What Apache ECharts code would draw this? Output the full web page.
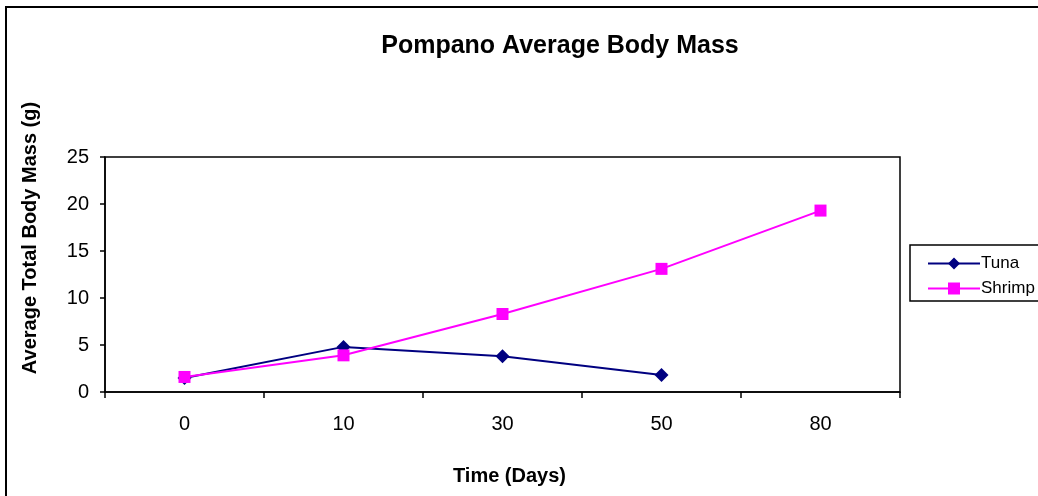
<!DOCTYPE html>
<html>
<head>
<meta charset="utf-8">
<script src="https://cdn.jsdelivr.net/npm/echarts@6/dist/echarts.min.js"></script>
<style>
  html, body { margin: 0; padding: 0; background: #fff; }
  #chart { width: 1038px; height: 496px; }
</style>
</head>
<body>
<div id="chart"></div>
<script>
var days = ['0', '10', '30', '50', '80']
var tuna = [1.5, 4.8, 3.8, 1.8]
var shrimp = [1.6, 3.9, 8.3, 13.1, 19.3]
var yTicks = [0, 5, 10, 15, 20, 25]

var font = 'Arial, "Liberation Sans", sans-serif'
var colors = ['#000080', '#ff00ff']

var chart = echarts.init(document.getElementById('chart'))

chart.setOption({
  animation: false,
  color: colors,
  title: {
    text: 'Pompano Average Body Mass',
    left: 555,
    top: 29,
    textAlign: 'center',
    textStyle: { fontFamily: font, fontSize: 25, fontWeight: 'bold', color: '#000' }
  },
  legend: {
    orient: 'vertical',
    left: 922,
    top: 250,
    itemWidth: 52,
    itemHeight: 15,
    itemGap: 8,
    textStyle: { fontFamily: font, fontSize: 17, color: '#000', padding: [0, 0, 0, -4] },
    data: ['Tuna', 'Shrimp']
  },
  grid: {
    left: 105,
    top: 157,
    right: 138,
    bottom: 104,
    show: true,
    borderColor: '#000',
    borderWidth: 1.5
  },
  xAxis: {
    type: 'category',
    data: days,
    boundaryGap: true,
    name: 'Time (Days)',
    nameLocation: 'middle',
    nameGap: 74,
    nameTextStyle: { fontFamily: font, fontSize: 20, fontWeight: 'bold', color: '#000', padding: [0, 0, 0, 14] },
    axisLine: { lineStyle: { color: '#000', width: 1.5 } },
    axisTick: { show: true, length: 6, lineStyle: { color: '#000', width: 1.5 } },
    axisLabel: { fontFamily: font, fontSize: 20, color: '#000', margin: 22 },
    splitLine: { show: false }
  },
  yAxis: {
    type: 'value',
    min: yTicks[0],
    max: yTicks[yTicks.length - 1],
    interval: 5,
    axisLine: { show: true, lineStyle: { color: '#000', width: 1.5 } },
    axisTick: { show: true, length: 5, lineStyle: { color: '#000', width: 1.5 } },
    axisLabel: { fontFamily: font, fontSize: 20, color: '#000', margin: 16 },
    splitLine: { show: false }
  },
  graphic: [
    {
      type: 'rect',
      shape: { x: 6, y: 7, width: 1200, height: 700 },
      style: { fill: 'none', stroke: '#000', lineWidth: 2 },
      silent: true
    },
    {
      type: 'rect',
      shape: { x: 910, y: 245, width: 200, height: 56 },
      style: { fill: 'none', stroke: '#000', lineWidth: 1.5 },
      silent: true
    },
    {
      type: 'text',
      x: 30,
      y: 238,
      rotation: Math.PI / 2,
      style: {
        text: 'Average Total Body Mass (g)',
        fontFamily: font,
        fontSize: 20,
        fontWeight: 'bold',
        fill: '#000',
        align: 'center',
        verticalAlign: 'middle'
      }
    }
  ],
  series: [
    {
      name: 'Tuna',
      type: 'line',
      data: tuna,
      symbol: 'diamond',
      symbolSize: 14,
      lineStyle: { width: 2, color: colors[0] },
      itemStyle: { color: colors[0] }
    },
    {
      name: 'Shrimp',
      type: 'line',
      data: shrimp,
      symbol: 'rect',
      symbolSize: 12,
      lineStyle: { width: 2, color: colors[1] },
      itemStyle: { color: colors[1] }
    }
  ]
})
</script>
</body>
</html>
